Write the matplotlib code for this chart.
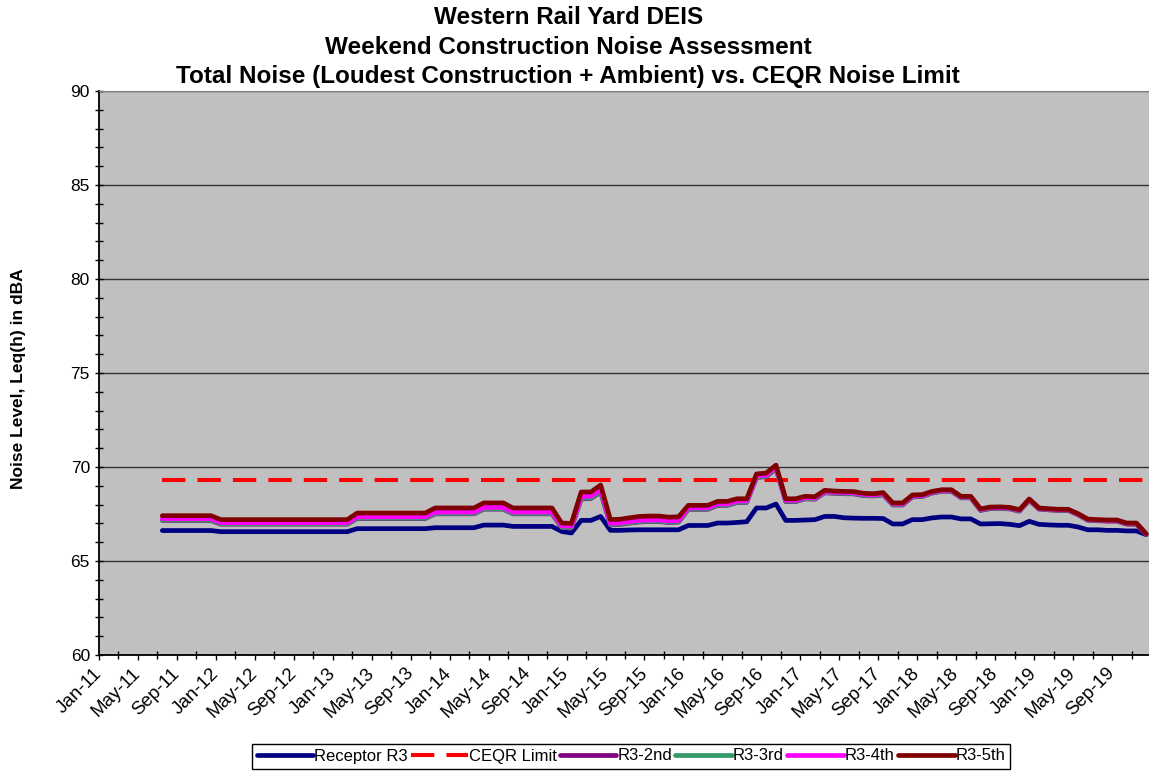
import matplotlib
matplotlib.use("Agg")
import matplotlib.pyplot as plt
import numpy as np

plt.rcParams['font.family'] = ['Liberation Sans', 'DejaVu Sans']

# month labels on the date axis (every 4 months from Jan-11)
tick_labels = ['Jan-11', 'May-11', 'Sep-11', 'Jan-12', 'May-12', 'Sep-12', 'Jan-13',
               'May-13', 'Sep-13', 'Jan-14', 'May-14', 'Sep-14', 'Jan-15', 'May-15',
               'Sep-15', 'Jan-16', 'May-16', 'Sep-16', 'Jan-17', 'May-17', 'Sep-17',
               'Jan-18', 'May-18', 'Sep-18', 'Jan-19', 'May-19', 'Sep-19']

# monthly Leq(h) values, Jul-2011 .. Dec-2019
receptor_r3 = ([66.62] * 6 +
               [66.56] * 12 +
               [66.56, 66.56] + [66.72] * 8 + [66.77, 66.77] +
               [66.77] * 3 + [66.91] * 3 + [66.84] * 5 + [66.57] +
               [66.49, 67.16, 67.16, 67.37, 66.63, 66.63, 66.65, 66.66, 66.66, 66.66, 66.66, 66.66] +
               [66.89, 66.89, 66.89, 67.02, 67.02, 67.05, 67.09, 67.82, 67.82, 68.03, 67.16, 67.16] +
               [67.18, 67.20, 67.37, 67.37, 67.30, 67.28, 67.27, 67.27, 67.26, 66.97, 66.97, 67.20] +
               [67.20, 67.29, 67.34, 67.34, 67.24, 67.24, 66.97, 66.98, 66.99, 66.95, 66.88, 67.11] +
               [66.95, 66.92, 66.90, 66.90, 66.81, 66.66, 66.66, 66.63, 66.63, 66.60, 66.60, 66.40])

ceqr_limit = [69.3] * 102

r3_2nd = ([67.16] * 6 +
          [66.96] * 12 +
          [66.96, 66.96] + [67.26] * 8 + [67.51, 67.51] +
          [67.51] * 3 + [67.76] * 3 + [67.51] * 5 + [66.78] +
          [66.76, 68.30, 68.33, 68.67, 66.92, 66.94, 67.02, 67.08, 67.10, 67.10, 67.05, 67.07] +
          [67.75, 67.75, 67.75, 67.96, 67.96, 68.11, 68.12, 69.44, 69.49, 69.91, 68.16, 68.16] +
          [68.31, 68.29, 68.63, 68.60, 68.58, 68.57, 68.48, 68.46, 68.52, 67.98, 67.98, 68.41] +
          [68.43, 68.61, 68.71, 68.71, 68.36, 68.36, 67.69, 67.79, 67.80, 67.77, 67.65, 68.23] +
          [67.76, 67.72, 67.69, 67.69, 67.46, 67.17, 67.14, 67.12, 67.12, 66.96, 66.96, 66.42])

r3_3rd = ([67.18] * 6 +
          [66.98] * 12 +
          [66.98, 66.98] + [67.28] * 8 + [67.53, 67.53] +
          [67.53] * 3 + [67.78] * 3 + [67.53] * 5 + [66.80] +
          [66.78, 68.33, 68.36, 68.70, 66.94, 66.96, 67.04, 67.10, 67.12, 67.12, 67.07, 67.09] +
          [67.77, 67.77, 67.77, 67.98, 67.98, 68.13, 68.14, 69.46, 69.51, 69.93, 68.18, 68.18] +
          [68.33, 68.31, 68.65, 68.62, 68.60, 68.59, 68.50, 68.48, 68.54, 68.00, 68.00, 68.43] +
          [68.45, 68.63, 68.73, 68.73, 68.38, 68.38, 67.71, 67.81, 67.82, 67.79, 67.67, 68.25] +
          [67.78, 67.74, 67.71, 67.71, 67.48, 67.19, 67.16, 67.14, 67.14, 66.98, 66.98, 66.43])

r3_4th = ([67.25] * 6 +
          [67.04] * 12 +
          [67.04, 67.04] + [67.35] * 8 + [67.60, 67.60] +
          [67.60] * 3 + [67.85] * 3 + [67.60] * 5 + [66.87] +
          [66.85, 68.42, 68.45, 68.80, 67.00, 67.02, 67.10, 67.16, 67.18, 67.18, 67.13, 67.15] +
          [67.83, 67.83, 67.83, 68.04, 68.04, 68.19, 68.20, 69.52, 69.57, 70.00, 68.23, 68.23] +
          [68.37, 68.35, 68.69, 68.66, 68.64, 68.63, 68.54, 68.52, 68.58, 68.04, 68.04, 68.46] +
          [68.48, 68.66, 68.76, 68.76, 68.41, 68.41, 67.74, 67.84, 67.85, 67.82, 67.70, 68.28] +
          [67.80, 67.76, 67.73, 67.73, 67.50, 67.21, 67.18, 67.16, 67.16, 67.00, 67.00, 66.44])

r3_5th = ([67.41] * 6 +
          [67.20] * 12 +
          [67.20, 67.20] + [67.55] * 8 + [67.82, 67.82] +
          [67.82] * 3 + [68.09] * 3 + [67.82] * 5 + [67.02] +
          [67.00, 68.67, 68.67, 69.04, 67.20, 67.22, 67.30, 67.37, 67.39, 67.39, 67.33, 67.35] +
          [67.96, 67.96, 67.96, 68.17, 68.17, 68.31, 68.31, 69.63, 69.68, 70.10, 68.31, 68.31] +
          [68.44, 68.42, 68.76, 68.72, 68.70, 68.69, 68.60, 68.58, 68.64, 68.09, 68.09, 68.51] +
          [68.53, 68.70, 68.79, 68.79, 68.44, 68.44, 67.77, 67.87, 67.88, 67.85, 67.73, 68.30] +
          [67.82, 67.78, 67.75, 67.75, 67.52, 67.23, 67.20, 67.18, 67.18, 67.02, 67.02, 66.45])

# x positions: months since Jan-2011, points centred between tick marks
first_month = 6
x = np.arange(len(receptor_r3)) + first_month + 0.5

fig = plt.figure(figsize=(11.49, 7.73), dpi=100)
ax = fig.add_axes([99 / 1149, 118 / 773, 1052 / 1149, 564 / 773])
ax.set_facecolor('#C0C0C0')

lw = 3.4
ax.plot(x, receptor_r3, color='#000080', lw=lw, solid_capstyle='round', label='Receptor R3')
ax.plot(x, ceqr_limit, color='#FF0000', lw=2.9, dashes=(5.8, 3.0), dash_capstyle='butt',
        label='CEQR Limit')
ax.plot(x, r3_2nd, color='#800080', lw=lw, solid_capstyle='round', label='R3-2nd')
ax.plot(x, r3_3rd, color='#339966', lw=lw, solid_capstyle='round', label='R3-3rd')
ax.plot(x, r3_4th, color='#FF00FF', lw=lw, solid_capstyle='round', label='R3-4th')
ax.plot(x, r3_5th, color='#800000', lw=lw, solid_capstyle='round', label='R3-5th')

ax.set_ylim(60, 90)
ax.set_yticks(np.arange(60, 91, 5))
ax.set_yticks(np.arange(60, 91, 1), minor=True)
ax.yaxis.grid(True, which='major', color='#333333', lw=1.0)
ax.set_axisbelow(True)

ax.set_xlim(0, 108)
ax.set_xticks(np.arange(0, 4 * len(tick_labels), 4))
ax.set_xticklabels(tick_labels, rotation=45, ha='right', va='center', rotation_mode='anchor')
ax.set_xticks(np.arange(2, 108, 4), minor=True)

ax.tick_params(axis='x', which='major', direction='out', length=3.3, width=1, pad=8,
               labelsize=13.5)
ax.tick_params(axis='x', which='minor', direction='inout', length=6, width=1)
ax.tick_params(axis='y', which='both', direction='inout', length=6, width=1, labelsize=12.5)

for side in ['left', 'bottom']:
    ax.spines[side].set_color('black')
    ax.spines[side].set_linewidth(1.3)
ax.spines['top'].set_color('#808080')
ax.spines['right'].set_visible(False)

ax.set_ylabel('Noise Level, Leq(h) in dBA', fontsize=12.5, fontweight='bold')
ax.yaxis.set_label_coords(-0.069, 0.49)

titles = ['Western Rail Yard DEIS',
          'Weekend Construction Noise Assessment',
          'Total Noise (Loudest Construction + Ambient) vs. CEQR Noise Limit']
for i, t in enumerate(titles):
    fig.text(0.4945, 1 - (17 + 30 * i) / 773, t, ha='center', va='center',
             fontsize=17.5, fontweight='bold')

leg = fig.legend(loc='center', bbox_to_anchor=(631 / 1149, 1 - 756 / 773), ncol=6,
                 fontsize=12, handlelength=3.4, handletextpad=0.05, columnspacing=0.2,
                 borderpad=0.3, fancybox=False, framealpha=1)
leg.get_frame().set_edgecolor('black')
leg.get_frame().set_linewidth(1.0)

fig.savefig('out.png', dpi=100)
